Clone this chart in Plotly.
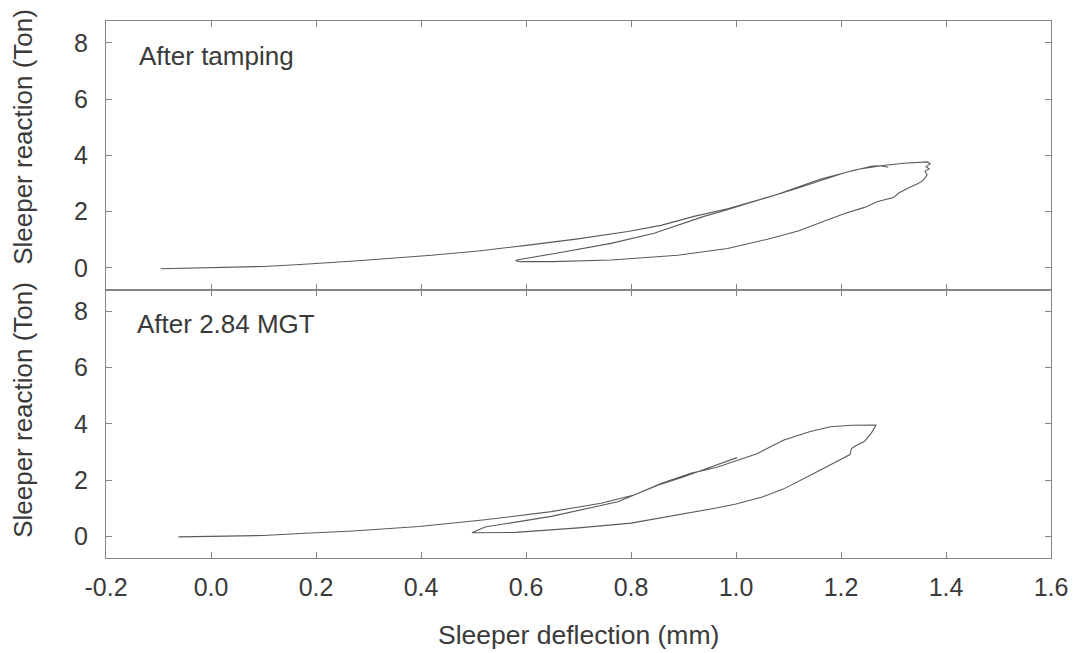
import plotly.graph_objects as go

# ---- data ----
tamp_defl = [-0.096, 0.0, 0.10, 0.17, 0.28, 0.42, 0.509, 0.604, 0.699, 0.794, 0.857, 0.92, 0.984, 1.078, 1.12, 1.16, 1.20, 1.23, 1.28, 1.32, 1.365,
             1.370, 1.362, 1.368, 1.360, 1.364, 1.356, 1.345,
             1.33, 1.31, 1.30, 1.27, 1.245, 1.21, 1.18, 1.12, 1.06, 0.984, 0.889, 0.762, 0.65, 0.59, 0.58,
             0.585, 0.655, 0.762, 0.844, 0.90, 0.939, 0.977, 1.03, 1.08, 1.12, 1.16, 1.21, 1.26, 1.275, 1.29]
tamp_react = [-0.03, 0.0, 0.05, 0.12, 0.25, 0.45, 0.60, 0.81, 1.03, 1.29, 1.51, 1.83, 2.10, 2.61, 2.88, 3.15, 3.35, 3.50, 3.64, 3.72, 3.77,
              3.70, 3.60, 3.52, 3.44, 3.30, 3.10, 2.98,
              2.86, 2.66, 2.50, 2.36, 2.15, 1.95, 1.75, 1.32, 1.02, 0.69, 0.45, 0.28, 0.22, 0.22, 0.25,
              0.29, 0.51, 0.87, 1.23, 1.58, 1.83, 2.03, 2.33, 2.62, 2.85, 3.10, 3.40, 3.62, 3.63, 3.58]

mgt_defl = [-0.062, 0.0, 0.10, 0.17, 0.27, 0.396, 0.522, 0.648, 0.743, 0.806, 0.857, 0.914, 0.965, 1.04, 1.09, 1.14, 1.18, 1.22, 1.267,
            1.258, 1.25, 1.245, 1.228, 1.22, 1.217, 1.20, 1.18, 1.15, 1.12, 1.09, 1.05, 1.00, 0.96, 0.87, 0.80, 0.70, 0.648, 0.58, 0.497,
            0.522, 0.648, 0.775, 0.851, 0.901, 0.952, 1.002]
mgt_react = [-0.02, -0.01, 0.03, 0.10, 0.19, 0.35, 0.59, 0.88, 1.18, 1.47, 1.88, 2.24, 2.47, 2.94, 3.42, 3.72, 3.90, 3.95, 3.96,
             3.68, 3.50, 3.38, 3.22, 3.12, 2.91, 2.75, 2.55, 2.25, 1.95, 1.68, 1.40, 1.15, 1.00, 0.69, 0.47, 0.30, 0.24, 0.14, 0.13,
             0.33, 0.71, 1.23, 1.82, 2.12, 2.47, 2.80]

x_ticks = [-0.2, 0.0, 0.2, 0.4, 0.6, 0.8, 1.0, 1.2, 1.4, 1.6]
x_tick_labels = ["-0.2", "0.0", "0.2", "0.4", "0.6", "0.8", "1.0", "1.2", "1.4", "1.6"]
y_ticks = [0, 2, 4, 6, 8]

FONT = "Liberation Sans, Arial, sans-serif"
TXT = "#3a3a3a"
LINE = "#858585"
CURVE = "#5a5a5a"

fig = go.Figure()
fig.add_trace(go.Scatter(x=tamp_defl, y=tamp_react, mode="lines", xaxis="x", yaxis="y",
                         line=dict(color=CURVE, width=1.1), showlegend=False))
fig.add_trace(go.Scatter(x=mgt_defl, y=mgt_react, mode="lines", xaxis="x2", yaxis="y2",
                         line=dict(color=CURVE, width=1.1), showlegend=False))

common_x = dict(range=[-0.2, 1.6], tickvals=x_ticks, ticktext=x_tick_labels, ticks="inside", ticklen=6,
                tickcolor=LINE, showline=True, linecolor=LINE, linewidth=1, mirror="allticks", showgrid=False,
                zeroline=False, tickfont=dict(family=FONT, size=25, color=TXT))
common_y = dict(range=[-0.77, 8.78], tickvals=y_ticks, ticks="inside", ticklen=6, tickcolor=LINE,
                showline=True, linecolor=LINE, linewidth=1, mirror="allticks", showgrid=False,
                zeroline=False, tickfont=dict(family=FONT, size=25, color=TXT), ticklabelstandoff=12)

fig.update_layout(
    width=1080, height=653,
    margin=dict(l=106, r=25, t=21, b=95),
    paper_bgcolor="white", plot_bgcolor="white",
    xaxis=dict(domain=[0, 1], anchor="y", showticklabels=False, **common_x),
    yaxis=dict(domain=[0.5, 1], anchor="x", **common_y),
    xaxis2=dict(domain=[0, 1], anchor="y2", matches="x", showticklabels=True, ticklabelstandoff=7, **common_x),
    yaxis2=dict(domain=[0, 0.5], anchor="x2", **common_y),
    annotations=[
        dict(text="After tamping", xref="paper", yref="paper", x=(137 - 106) / 949, y=(558 - 56) / 537,
             xanchor="left", yanchor="middle", showarrow=False, font=dict(family=FONT, size=26, color=TXT)),
        dict(text="After 2.84 MGT", xref="paper", yref="paper", x=(135 - 106) / 949, y=(558 - 324) / 537,
             xanchor="left", yanchor="middle", showarrow=False, font=dict(family=FONT, size=26, color=TXT)),
        dict(text="Sleeper reaction (Ton)", xref="paper", yref="paper", x=(22.5 - 106) / 949, y=(558 - 137) / 537,
             xanchor="center", yanchor="middle", textangle=-90, showarrow=False,
             font=dict(family=FONT, size=26, color=TXT)),
        dict(text="Sleeper reaction (Ton)", xref="paper", yref="paper", x=(22.5 - 106) / 949, y=(558 - 410) / 537,
             xanchor="center", yanchor="middle", textangle=-90, showarrow=False,
             font=dict(family=FONT, size=26, color=TXT)),
        dict(text="Sleeper deflection (mm)", xref="paper", yref="paper", x=(581 - 106) / 949, y=(558 - 635) / 537,
             xanchor="center", yanchor="middle", showarrow=False, font=dict(family=FONT, size=26.5, color=TXT)),
    ],
)

fig.write_html("out.html")
